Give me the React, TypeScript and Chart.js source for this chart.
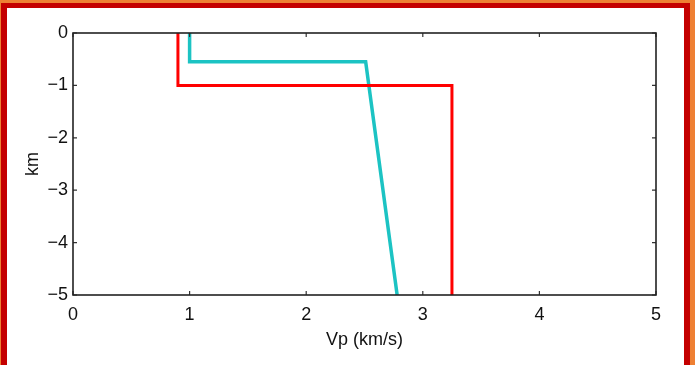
import React, { useEffect, useRef } from "react";
import { Chart, registerables } from "chart.js";

Chart.register(...registerables);

const xTicks = [0, 1, 2, 3, 4, 5];
const yTicks = [0, -1, -2, -3, -4, -5];

const redVp = [0.9, 0.9, 3.25, 3.25];
const redDepth = [0, -1, -1, -5];

const cyanVp = [1.0, 1.0, 2.51, 2.78];
const cyanDepth = [0, -0.55, -0.55, -5];

const FONT = "'Liberation Sans', Arial, Helvetica, sans-serif";

const framePlugin = {
  id: "frame",
  afterDatasetsDraw(chart: any) {
    const { ctx, chartArea, scales } = chart;
    const { left, right, top, bottom } = chartArea;
    ctx.save();
    // inward ticks
    ctx.strokeStyle = "#333";
    ctx.lineWidth = 1.2;
    const tl = 4;
    xTicks.forEach((v) => {
      const px = scales.x.getPixelForValue(v);
      ctx.beginPath();
      ctx.moveTo(px, bottom);
      ctx.lineTo(px, bottom - tl);
      ctx.moveTo(px, top);
      ctx.lineTo(px, top + tl);
      ctx.stroke();
    });
    yTicks.forEach((v) => {
      const py = scales.y.getPixelForValue(v);
      ctx.beginPath();
      ctx.moveTo(left, py);
      ctx.lineTo(left + tl, py);
      ctx.moveTo(right, py);
      ctx.lineTo(right - tl, py);
      ctx.stroke();
    });
    // box
    ctx.strokeStyle = "#222";
    ctx.lineWidth = 1.6;
    ctx.strokeRect(left, top, right - left, bottom - top);
    ctx.restore();
  },
  afterDraw(chart: any) {
    const { ctx, width, height } = chart;
    ctx.save();
    ctx.fillStyle = "#ee8033";
    ctx.fillRect(0, 0, width, 3);
    ctx.fillRect(0, 0, 1, height);
    ctx.fillRect(690, 0, width - 690, height);
    ctx.fillStyle = "#c40000";
    ctx.fillRect(1, 3, 689, 5);
    ctx.fillRect(1, 3, 6, height - 3);
    ctx.fillRect(684, 3, 6, height - 3);
    ctx.restore();
  },
};

export default function App() {
  const ref = useRef<HTMLCanvasElement | null>(null);

  useEffect(() => {
    document.body.style.margin = "0";
    const canvas = ref.current;
    if (!canvas) return;
    const chart = new Chart(canvas, {
      type: "scatter",
      data: {
        datasets: [
          {
            data: redVp.map((x, i) => ({ x, y: redDepth[i] })),
            showLine: true,
            borderColor: "#ff0000",
            borderWidth: 3,
            pointRadius: 0,
            fill: false,
          },
          {
            data: cyanVp.map((x, i) => ({ x, y: cyanDepth[i] })),
            showLine: true,
            borderColor: "#1cc3c3",
            borderWidth: 3.5,
            pointRadius: 0,
            fill: false,
          },
        ],
      },
      options: {
        animation: false,
        responsive: false,
        events: [],
        layout: { padding: { left: 0, top: 33, right: 39, bottom: 0 } },
        plugins: {
          legend: { display: false },
          tooltip: { enabled: false },
        },
        scales: {
          x: {
            type: "linear",
            min: 0,
            max: 5,
            afterFit: (s: any) => {
              s.height = 70;
            },
            afterBuildTicks: (s: any) => {
              s.ticks = xTicks.map((v) => ({ value: v }));
            },
            ticks: {
              padding: 9,
              color: "#111",
              font: { family: FONT, size: 18 },
              maxRotation: 0,
              callback: (v: any) => String(v),
            },
            grid: { display: false, drawTicks: false },
            border: { display: false },
            title: {
              display: true,
              text: "Vp (km/s)",
              color: "#111",
              font: { family: FONT, size: 18 },
              padding: { top: 0, bottom: 14 },
            },
          },
          y: {
            type: "linear",
            min: -5,
            max: 0,
            afterFit: (s: any) => {
              s.width = 73;
            },
            afterBuildTicks: (s: any) => {
              s.ticks = yTicks.map((v) => ({ value: v }));
            },
            ticks: {
              padding: 5,
              color: "#111",
              font: { family: FONT, size: 18 },
              callback: (v: any) => (Number(v) < 0 ? "\u2212" + Math.abs(Number(v)) : String(v)),
            },
            grid: { display: false, drawTicks: false },
            border: { display: false },
            title: {
              display: true,
              text: "km",
              color: "#111",
              font: { family: FONT, size: 18 },
              padding: { top: 22, bottom: 0 },
            },
          },
        },
      },
      plugins: [framePlugin],
    });
    return () => chart.destroy();
  }, []);

  return (
    <div style={{ width: 695, height: 365, background: "#fff" }}>
      <canvas ref={ref} width={695} height={365} style={{ display: "block" }} />
    </div>
  );
}
